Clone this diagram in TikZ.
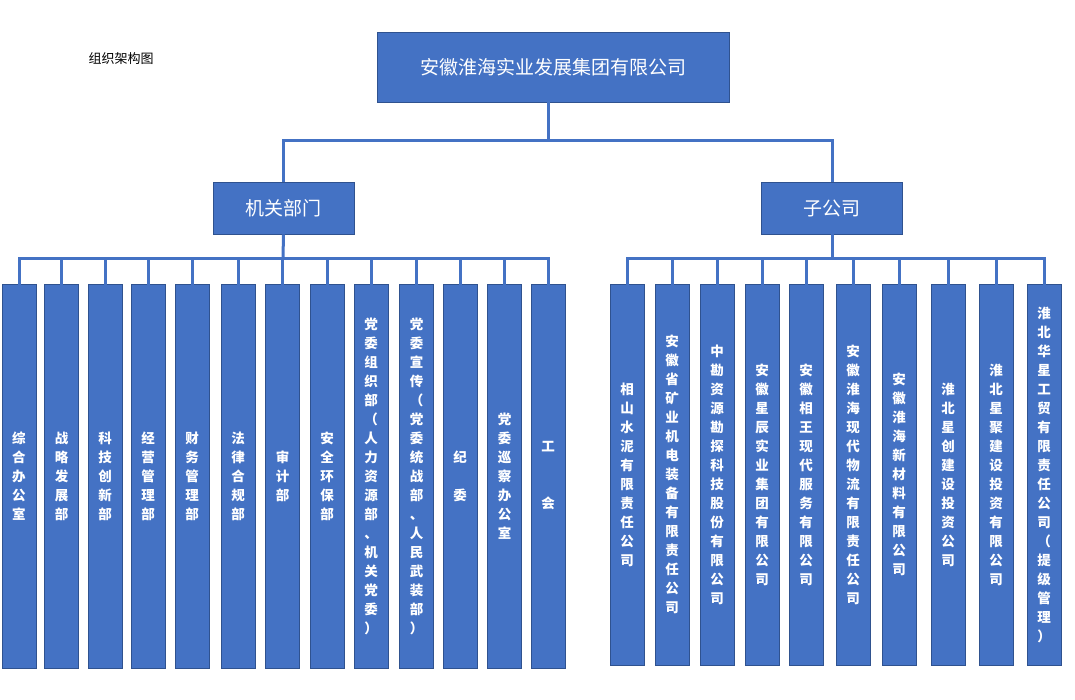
\documentclass[tikz,border=0pt]{standalone}
\usepackage{fontspec}
\setmainfont{Noto Sans CJK SC}
\definecolor{bx}{HTML}{4472C4}
\definecolor{bd}{HTML}{2F528F}
\begin{document}
\begin{tikzpicture}[x=1pt,y=-1pt,
  box/.style={draw=bd,fill=bx,line width=0.8pt,text=white,inner sep=0pt},
  top/.style={box,minimum width=352,minimum height=70,font=\fontsize{19}{22}\selectfont},
  mid/.style={box,minimum width=141,minimum height=52,font=\fontsize{19}{22}\selectfont},
  leaf/.style={box,minimum width=34,minimum height=384,font=\bfseries\fontsize{13.5}{19}\selectfont,align=center},
  ln/.style={draw=bx,line width=3pt}]
\useasboundingbox (0,0) rectangle (1075,699);
\node[font=\fontsize{13}{15}\selectfont,anchor=west] (title) at (85,59) {组织架构图};
\node[top] (root) at (553,67) {安徽淮海实业发展集团有限公司};
\node[mid] (jg) at (283.5,208) {机关部门};
\node[mid] (zg) at (832,208) {子公司};
\coordinate (r1) at (548,140);
\draw[ln] (root.south -| r1) -- (r1);
\draw[ln] (jg.north) |- (r1) -| (zg.north);
% left leaves
\foreach \n/\x/\t in {
 a/19/综\\合\\办\\公\\室,
 b/61.5/战\\略\\发\\展\\部,
 c/105/科\\技\\创\\新\\部,
 d/148/经\\营\\管\\理\\部,
 e/192/财\\务\\管\\理\\部,
 f/238/法\\律\\合\\规\\部,
 g/282.5/审\\计\\部,
 h/327/安\\全\\环\\保\\部,
 i/371/党\\委\\组\\织\\部\\（\\人\\力\\资\\源\\部\\、\\机\\关\\党\\委\\）,
 j/416.5/党\\委\\宣\\传\\（\\党\\委\\统\\战\\部\\、\\人\\民\\武\\装\\部\\）,
 k/460/纪\\\\委,
 l/504.5/党\\委\\巡\\察\\办\\公\\室,
 m/548/工\\\\\\会}
 {\node[leaf] (\n) at (\x,476) {\t};}
\coordinate (lb) at (283,258);
\draw[ln] (jg.south) -- (lb);
\draw[ln] ([yshift=-2pt]a.north) |- (lb) -| ([yshift=-2pt]m.north);
\foreach \n in {b,c,d,e,f,g,h,i,j,k,l}
 \draw[ln] ([yshift=-2pt]\n.north) -- (\n.north |- lb);
% right leaves
\foreach \n/\x/\t in {
 p/627/相\\山\\水\\泥\\有\\限\\责\\任\\公\\司,
 q/672/安\\徽\\省\\矿\\业\\机\\电\\装\\备\\有\\限\\责\\任\\公\\司,
 r/717/中\\勘\\资\\源\\勘\\探\\科\\技\\股\\份\\有\\限\\公\\司,
 s/762/安\\徽\\星\\辰\\实\\业\\集\\团\\有\\限\\公\\司,
 t/806/安\\徽\\相\\王\\现\\代\\服\\务\\有\\限\\公\\司,
 u/853/安\\徽\\淮\\海\\现\\代\\物\\流\\有\\限\\责\\任\\公\\司,
 v/899/安\\徽\\淮\\海\\新\\材\\料\\有\\限\\公\\司,
 w/948/淮\\北\\星\\创\\建\\设\\投\\资\\公\\司,
 x/996/淮\\北\\星\\聚\\建\\设\\投\\资\\有\\限\\公\\司,
 y/1044/淮\\北\\华\\星\\工\\贸\\有\\限\\责\\任\\公\\司\\（\\提\\级\\管\\理\\）}
 {\node[leaf,minimum height=381] (\n) at (\x,474.5) {\t};}
\coordinate (rb) at (832,258);
\draw[ln] (zg.south) -- (rb);
\draw[ln] ([yshift=-2pt]p.north) |- (rb) -| ([yshift=-2pt]y.north);
\foreach \n in {q,r,s,t,u,v,w,x}
 \draw[ln] ([yshift=-2pt]\n.north) -- (\n.north |- rb);
\end{tikzpicture}
\end{document}
